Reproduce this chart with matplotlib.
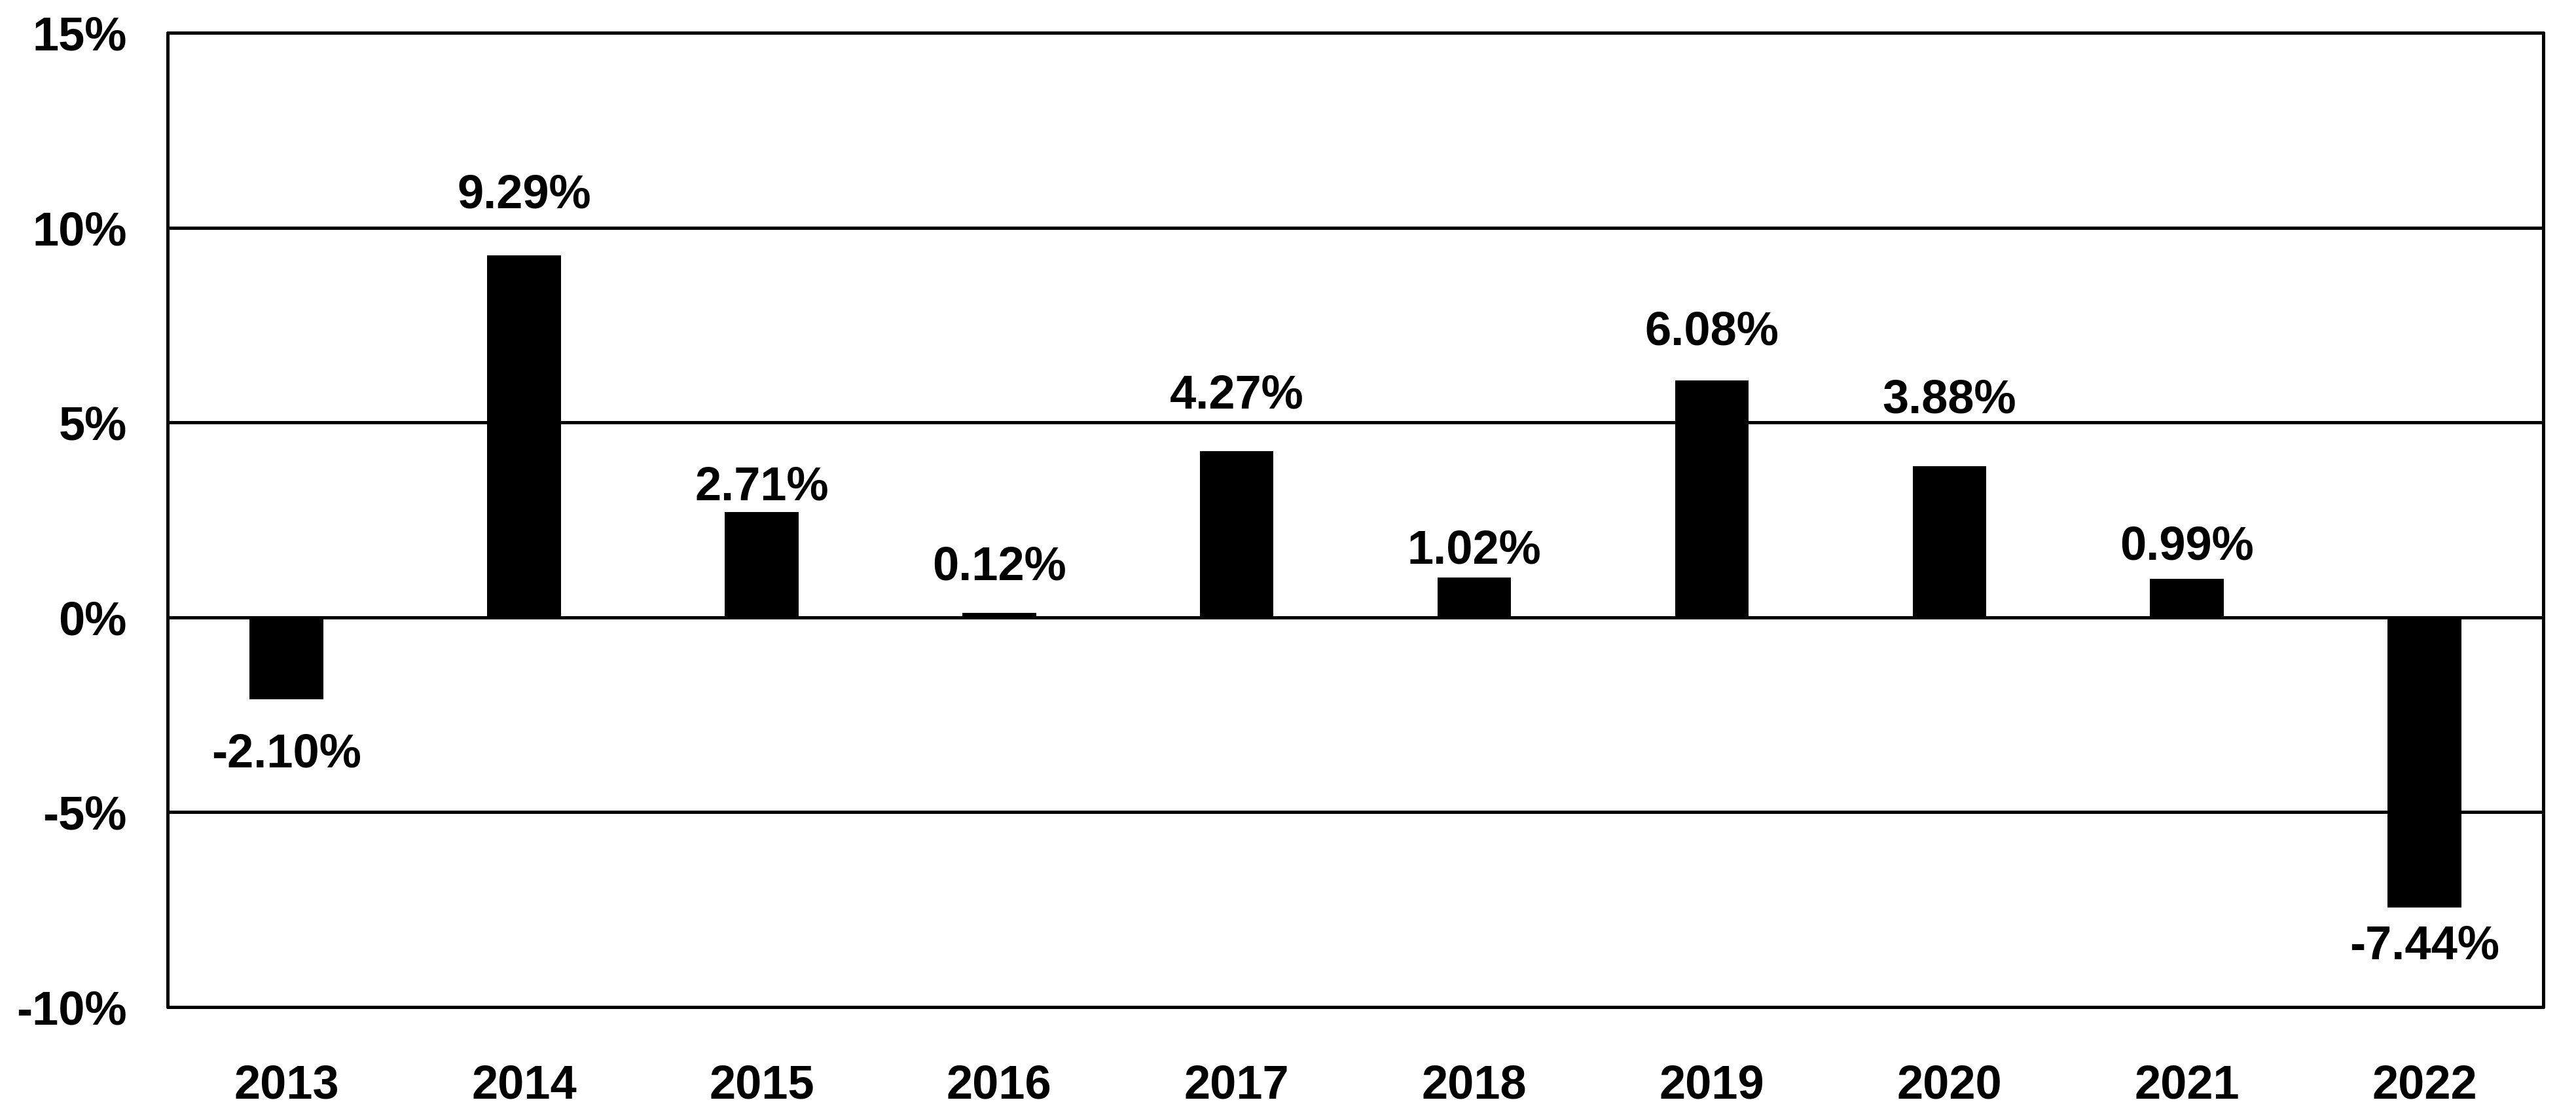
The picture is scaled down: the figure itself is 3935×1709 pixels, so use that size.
import numpy as np
import matplotlib
matplotlib.use('Agg')
import matplotlib.pyplot as plt

# data
years = ['2013', '2014', '2015', '2016', '2017', '2018', '2019', '2020', '2021', '2022']
returns = [-2.10, 9.29, 2.71, 0.12, 4.27, 1.02, 6.08, 3.88, 0.99, -7.44]
y_ticks = [-10, -5, 0, 5, 10, 15]

# label distance from bar end (points), placed by hand in the original
label_offsets = [61, 66, 27, 50, 61, 29, 53, 72, 35, 43]

plt.rcParams['font.family'] = ['Liberation Sans', 'DejaVu Sans']
plt.rcParams['font.weight'] = 'bold'

fig = plt.figure(figsize=(39.35, 17.09), dpi=100)
ax = fig.add_axes([0.0651, 0.1, 0.9222, 0.8707])

x = np.arange(len(years))
ax.bar(x, returns, width=0.31, color='black', zorder=2)

for xi, v, off in zip(x, returns, label_offsets):
    sign = 1 if v >= 0 else -1
    ax.annotate(f'{v:.2f}%', (xi, v), xytext=(0, sign * off),
                textcoords='offset points', ha='center', va='center',
                fontsize=52, fontweight='bold')

ax.set_xlim(-0.5, len(years) - 0.5)
ax.set_ylim(-10, 15)
ax.set_yticks(y_ticks)
ax.set_yticklabels([f'{t}%' for t in y_ticks])
ax.set_xticks(x)
ax.set_xticklabels(years)
ax.tick_params(axis='both', length=0, labelsize=52)
ax.tick_params(axis='y', pad=45)
ax.tick_params(axis='x', pad=62)
for lab in ax.get_xticklabels() + ax.get_yticklabels():
    lab.set_fontweight('bold')

ax.grid(axis='y', color='black', linewidth=3.6, zorder=1)
ax.set_axisbelow(True)
for s in ax.spines.values():
    s.set_linewidth(3.6)
    s.set_capstyle('round')

fig.savefig('out.png', dpi=100, facecolor='white')
